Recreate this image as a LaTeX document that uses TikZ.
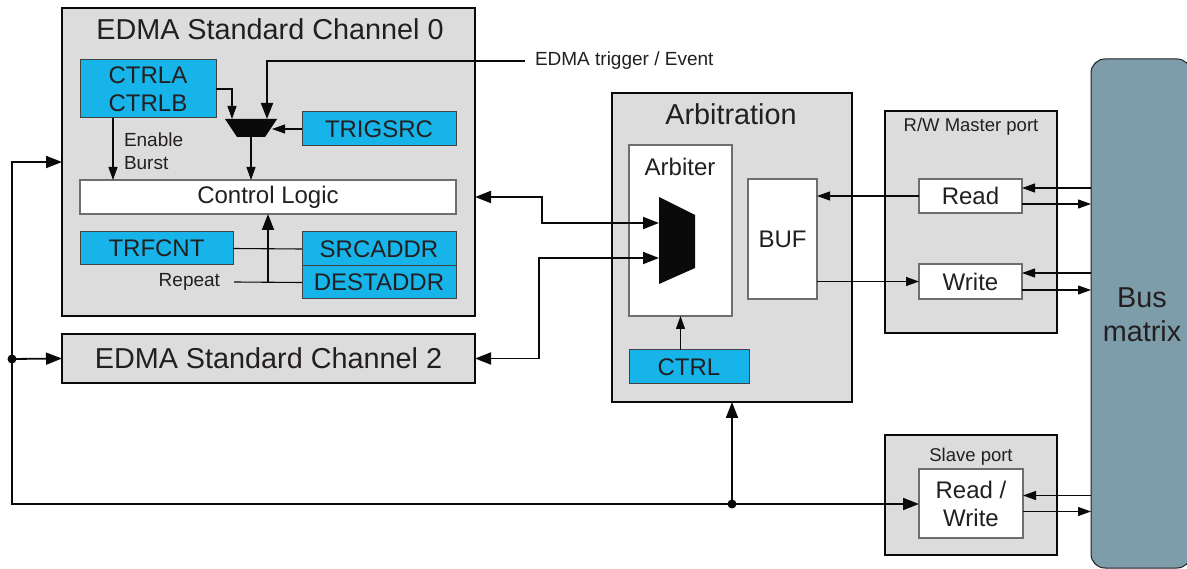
\documentclass[tikz,border=0pt]{standalone}
\usepackage{fontspec}
\setmainfont{Liberation Sans}
\usetikzlibrary{arrows.meta}
\definecolor{panel}{RGB}{220,220,220}
\definecolor{regblue}{RGB}{22,180,232}
\definecolor{busfill}{RGB}{125,157,171}
\definecolor{ink}{RGB}{35,31,32}
\definecolor{wire}{RGB}{10,10,10}
\tikzset{
  every node/.style={text=ink, inner sep=0pt, outer sep=0pt},
  panelbox/.style={draw=wire, line width=1.8pt, fill=panel, anchor=north west},
  regbox/.style={draw=ink!85, line width=1pt, fill=regblue, anchor=north west, align=center, font=\fontsize{24}{28}\selectfont},
  whitebox/.style={draw=ink!65, line width=1.1pt, fill=white, anchor=north west, align=center, font=\fontsize{24}{28}\selectfont},
  thinline/.style={draw=wire, line width=1.1pt},
  thickline/.style={draw=wire, line width=1.8pt},
  thinarr/.style={thinline, -{Triangle[length=13pt,width=9pt]}},
  thickarr/.style={thickline, -{Triangle[length=16pt,width=12pt]}},
  boththick/.style={thickline, {Triangle[length=16pt,width=12pt]}-{Triangle[length=16pt,width=12pt]}},
  titlefont/.style={font=\fontsize{28.8}{34}\selectfont},
  mainfont/.style={font=\fontsize{24}{28}\selectfont},
  labelfont/.style={font=\fontsize{19}{23}\selectfont},
  portfont/.style={font=\fontsize{18.5}{22}\selectfont},
}
\begin{document}
\begin{tikzpicture}[x=1pt,y=-1pt]
\useasboundingbox (0,0) rectangle (1187,569);

% ---------- Channel 0 ----------
\node[panelbox, minimum width=413pt, minimum height=308pt] (ch0) at (62,8) {};
\node[titlefont, anchor=base] (ch0title) at (270,40) {EDMA Standard Channel 0};
\node[regbox, minimum width=136pt, minimum height=58pt] (ctrlab) at (80,60) {CTRLA\\CTRLB};
\node[regbox, minimum width=154pt, minimum height=34pt] (trigsrc) at (302,112) {TRIGSRC};
\node[whitebox, minimum width=376pt, minimum height=34pt] (cl) at (80,180) {Control Logic};
\node[regbox, minimum width=153pt, minimum height=33pt] (trf) at (80,232) {TRFCNT};
\node[regbox, minimum width=154pt, minimum height=34pt] (src) at (302,232) {SRCADDR};
\node[regbox, minimum width=154pt, minimum height=33pt] (dest) at (302,266) {DESTADDR};
\node[labelfont, anchor=west, align=left] (eb) at (124,151) {Enable\\Burst};
\node[labelfont, anchor=east] (replbl) at (220,282) {Repeat};

% small mux
\fill[wire] (225,119) -- (277,119) -- (265,137) -- (237,137) -- cycle;
\coordinate (m1a) at (232,119);
\coordinate (m1t) at (267,119);
\coordinate (m1r) at (272,129);
\coordinate (m1o) at (251,137);

\draw[thinarr] (ctrlab.east) -| (m1a);
\draw[thinarr] (trigsrc.west) -- (m1r);
\draw[thinarr] (m1o) -- (m1o |- cl.north);
\path (ctrlab.south west) ++(33,0) coordinate (ebtop);
\draw[thinarr] (ebtop) -- (ebtop |- cl.north);
\draw[thinline] (trf.east) -- (src.west);
\draw[thinline] ([xshift=14pt]replbl.east) -- (dest.west);
\draw[thickarr] (cl.south |- dest.west) -- (cl.south);

% trigger
\node[labelfont, anchor=west] (trig) at (535,61) {EDMA trigger / Event};
\draw[thickarr] ([xshift=-10pt]trig.west) -| (m1t);

% ---------- Channel 2 ----------
\node[panelbox, minimum width=413pt, minimum height=49pt, titlefont] (ch2) at (62,334) {EDMA Standard Channel 2};

% ---------- Arbitration ----------
\node[panelbox, minimum width=240pt, minimum height=309pt] (arb) at (612,93) {};
\node[titlefont, anchor=base] (arbtitle) at (731,125) {Arbitration};
\node[whitebox, minimum width=103pt, minimum height=171pt] (arbiter) at (629,145) {};
\node[mainfont, anchor=base] (arbiterlbl) at (680,176) {Arbiter};
\fill[wire] (659,197) -- (695,215) -- (695,268) -- (659,284) -- cycle;
\coordinate (m2a) at (659,223);
\coordinate (m2b) at (659,258);
\node[whitebox, minimum width=69pt, minimum height=120pt] (buf) at (748,179) {BUF};
\node[regbox, minimum width=120pt, minimum height=34pt] (ctrl) at (629,350) {CTRL};
\draw[thinarr] (arbiter.south |- ctrl.north) -- (arbiter.south);

% ---------- R/W Master port ----------
\node[panelbox, minimum width=172pt, minimum height=222pt] (rwm) at (885,111) {};
\node[portfont, anchor=base] (rwmlbl) at (971,132) {R/W Master port};
\node[whitebox, minimum width=103pt, minimum height=34pt] (read) at (919,179) {Read};
\node[whitebox, minimum width=103pt, minimum height=35pt] (write) at (919,264) {Write};

% ---------- Slave port ----------
\node[panelbox, minimum width=172pt, minimum height=120pt] (slave) at (885,435) {};
\node[portfont, anchor=base] (slavelbl) at (971,461) {Slave port};
\node[whitebox, minimum width=104pt, minimum height=69pt] (rw) at (919,469) {Read /\\Write};

% ---------- Bus matrix ----------
\node[draw=ink, line width=1pt, fill=busfill, rounded corners=14pt, anchor=north west,
      minimum width=100pt, minimum height=509pt] (bus) at (1091,59) {};
\node[titlefont, align=center] (buslbl) at (1142,315) {Bus\\matrix};

% ---------- connectors ----------
\draw[boththick] (ch0.east |- cl.center) -- ++(67,0) |- (m2a);
\draw[boththick] (ch2.east) -- ++(64,0) |- (m2b);

\draw[thinarr] (read.west) -- (read.west -| buf.east);
\draw[thinarr] (write.west -| buf.east) -- (write.west);

\draw[thinarr] ([yshift=8pt]read.east -| bus.west) -- ([yshift=8pt]read.east);
\draw[thinarr] ([yshift=-8pt]read.east) -- ([yshift=-8pt]read.east -| bus.west);
\draw[thinarr] ([yshift=8.5pt]write.east -| bus.west) -- ([yshift=8.5pt]write.east);
\draw[thinarr] ([yshift=-8.5pt]write.east) -- ([yshift=-8.5pt]write.east -| bus.west);
\draw[thinarr] ([yshift=8pt]rw.east -| bus.west) -- ([yshift=8pt]rw.east);
\draw[thinarr] ([yshift=-8pt]rw.east) -- ([yshift=-8pt]rw.east -| bus.west);

\coordinate (dotL) at (12,359);
\coordinate (dotB) at (732,504);
\draw[thickarr] (dotL) |- (ch0.west);
\draw[thickarr] (dotL) -- (ch2.west);
\draw[thickline] (dotL) |- (dotB);
\draw[thickarr] (dotB) -- (rw.west |- dotB);
\draw[thickarr] (dotB) -- (arb.south);
\fill[wire] (dotL) circle (4.5pt);
\fill[wire] (dotB) circle (4.5pt);
\end{tikzpicture}
\end{document}
